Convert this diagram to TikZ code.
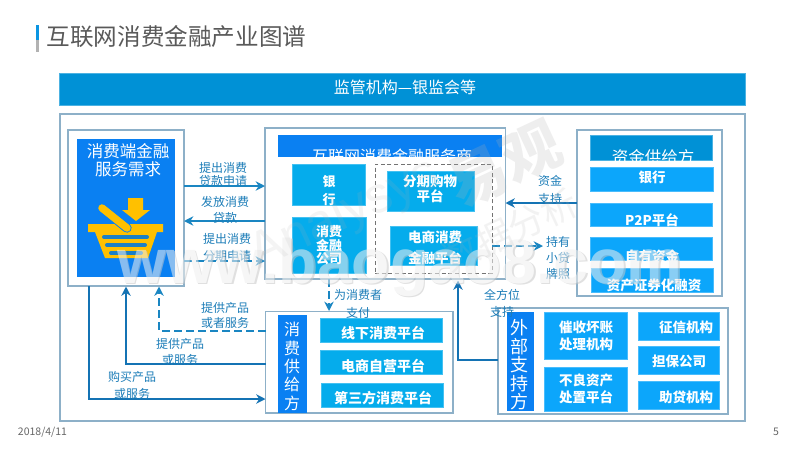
\documentclass[tikz,border=0pt]{standalone}
\usepackage{fontspec}
\setmainfont{Noto Sans CJK SC}
\newfontfamily\wmfont{Liberation Sans}
\usetikzlibrary{arrows.meta}
\definecolor{hdr}{HTML}{0091D6}
\definecolor{vivid}{HTML}{0A80F2}
\definecolor{cyanbox}{HTML}{05ACEC}
\definecolor{skybox}{HTML}{0CA6FB}
\definecolor{frameb}{HTML}{8DB0C8}
\definecolor{lnk}{HTML}{1A86C2}
\definecolor{lnkd}{HTML}{1473B4}
\definecolor{lbl}{HTML}{1C7DB8}
\definecolor{basket}{HTML}{FFC000}
\definecolor{stripe}{HTML}{1C80C4}
% box: name, style, x1, y1, x2, y2
\newcommand{\bx}[6]{%
  \pgfmathsetmacro{\bw}{(#5-#3)*0.75}\pgfmathsetmacro{\bh}{(#6-#4)*0.75}%
  \node[#2,minimum width=\bw pt,minimum height=\bh pt] (#1) at ({(#3+#5)/2},{(#4+#6)/2}) {};}
% text: name, style, size px, leading px, x, y, text
\newcommand{\tx}[7]{%
  \pgfmathsetmacro{\ts}{#3*0.75}\pgfmathsetmacro{\tl}{#4*0.75}%
  \node[#2,font=\fontsize{\ts pt}{\tl pt}\selectfont] (#1) at (#5,#6) {#7};}
\tikzset{
  x=0.75pt,y=-0.75pt,
  base/.style={rectangle,inner sep=0pt,outer sep=0pt},
  framebox/.style={base,draw=frameb,line width=1pt,fill=white},
  hdrbox/.style={base,fill=hdr,draw=hdr!70!white,line width=.4pt},
  vividbox/.style={base,fill=vivid},
  cyanb/.style={base,fill=cyanbox,draw=cyanbox!75!white,line width=.4pt},
  skyb/.style={base,fill=skybox,draw=skybox!75!white,line width=.4pt},
  wt/.style={inner sep=0pt,align=center,text=white,node font=\bfseries},
  wn/.style={inner sep=0pt,align=center,text=white},
  lt/.style={inner sep=0pt,align=center,text=lbl},
  arr/.style={-{Stealth[length=7pt,width=7pt]},line width=1.5pt,color=lnk},
  arrd/.style={arr,color=lnkd},
  darr/.style={arr,dash pattern=on 6pt off 3pt},
}
\begin{document}
\begin{tikzpicture}
\useasboundingbox (0,0) rectangle (800,450);
% title
\fill[skybox!90!black] (36,25) rectangle (38.5,40);
\fill[gray!60] (36,40) rectangle (38.5,52);
\tx{title}{inner sep=0pt,text=black!65}{23.6}{30}{176.5}{37}{互联网消费金融产业图谱}
% top bar and outer frame
\bx{top}{hdrbox}{59.5}{73.5}{745}{105}
\tx{toptx}{wn}{16}{20}{405}{87.5}{监管机构—银监会等}
\bx{outer}{framebox}{60}{114}{745}{421}
% left box
\bx{left}{framebox}{68}{130}{184}{286}
\bx{leftin}{vividbox}{77}{139}{175}{277}
\tx{lefttx}{wn}{16.5}{17.5}{128}{160}{消费端金融\\服务需求}
% basket
\fill[basket] (128,198) -- (143,198) -- (143,210) -- (150,210) -- (136,221) -- (122,210) -- (128,210) -- cycle;
\fill[basket] (88,224) -- (163,224) -- (163,232) -- (157,232) -- (148,258) -- (105,258) -- (95,232) -- (88,232) -- cycle;
\draw[vivid,line width=7pt,line cap=round] (102,208) -- (127,228);
\draw[basket,line width=5.6pt,line cap=round] (102,208) -- (127,228);
\draw[stripe,line width=3pt,line cap=round] (104,237) -- (147,237);
\draw[stripe,line width=3pt,line cap=round] (107,245) -- (145,245);
\draw[stripe,line width=3pt,line cap=round] (111,253) -- (141,253);
% centre box
\bx{center}{framebox}{265}{128}{505.5}{279}
\bx{centerh}{vividbox}{278}{135}{502}{157}
\tx{centertx}{wn}{16}{20}{392}{156}{互联网消费金融服务商}
\bx{bank}{cyanb}{292.5}{164.5}{365.5}{205}
\tx{banktx}{wt}{13}{18}{329}{191}{银\\行}
\bx{cfc}{cyanb}{292.5}{217}{366}{273}
\tx{cfctx}{wt}{13}{13.5}{329}{245.5}{消费\\金融\\公司}
\node[base,draw=black!55,dash pattern=on 3pt off 2pt,line width=.6pt,minimum width=87.75pt,minimum height=81.75pt] (dash) at (433.5,218.5) {};
\bx{fenqi}{cyanb}{387}{171}{474}{211}
\tx{fenqitx}{wt}{13.5}{15}{430}{189}{分期购物\\平台}
\bx{ds}{cyanb}{390}{226}{477}{265.5}
\tx{dstx}{wt}{13.5}{21}{435}{247.5}{电商消费\\金融平台}
% right box
\bx{fund}{framebox}{577}{130}{722}{296}
\bx{fundh}{hdrbox}{590}{135}{712}{160}
\tx{fundtx}{wn}{16.5}{20}{653}{157}{资金供给方}
\bx{r1}{skyb}{590.5}{167.5}{713}{191}
\tx{r1t}{wt}{13.5}{16}{652}{177}{银行}
\bx{r2}{skyb}{590.5}{203.5}{712}{226}
\tx{r2t}{wt}{13.5}{16}{652}{220}{P2P平台}
\bx{r3}{skyb}{590.5}{237.5}{712}{260}
\tx{r3t}{wt}{13.5}{16}{652}{256}{自有资金}
\bx{r4}{skyb}{591}{268.5}{713}{292}
\tx{r4t}{wt}{13.5}{16}{654}{285}{资产证券化融资}
% consumer supply
\bx{sup}{framebox}{265.5}{311.5}{453}{413}
\bx{supv}{vividbox}{278}{315}{307}{413}
\tx{supt}{wn}{16}{18.3}{292}{366.5}{消\\费\\供\\给\\方}
\bx{s1}{cyanb}{320}{318}{442}{342}
\tx{s1t}{wt}{14}{16}{383}{333}{线下消费平台}
\bx{s2}{cyanb}{320}{350}{442}{374}
\tx{s2t}{wt}{14}{16}{383}{366}{电商自营平台}
\bx{s3}{cyanb}{321}{383}{443}{407}
\tx{s3t}{wt}{14}{16}{383}{398}{第三方消费平台}
% external support
\bx{ext}{framebox}{498}{308}{728}{414}
\bx{extv}{vividbox}{506.5}{312}{534}{411}
\tx{extt}{wn}{18}{18.5}{519}{365}{外\\部\\支\\持\\方}
\bx{e1}{skyb}{544}{312.5}{627}{359}
\tx{e1t}{wt}{13.5}{17}{586}{335.5}{催收坏账\\处理机构}
\bx{e2}{skyb}{544.5}{367.5}{627}{411}
\tx{e2t}{wt}{13.5}{17}{586}{388.5}{不良资产\\处置平台}
\bx{e3}{skyb}{638.5}{312.5}{719}{340}
\tx{e3t}{wt}{13.5}{16}{686}{327}{征信机构}
\bx{e4}{skyb}{638.5}{346.5}{719}{374}
\tx{e4t}{wt}{13.5}{16}{679}{361}{担保公司}
\bx{e5}{skyb}{638.5}{381.5}{719}{409}
\tx{e5t}{wt}{13.5}{16}{686}{397}{助贷机构}
% connectors
\draw[arr] (left.east |- 0,186) -- (center.west |- 0,186);
\draw[arr] (center.west |- 0,221) -- (left.east |- 0,221);
\draw[darr] (left.east |- 0,261) -- (center.west |- 0,261);
\draw[darr] (sup.west |- 0,331) -- (159,331) -- (159,286.5);
\draw[arrd] (sup.west |- 0,364) -- (126,364) -- (126,286.5);
\draw[arrd] (89,286) -- (89,399) -- (sup.west |- 0,399);
\draw[darr] (329,279) -- (329,311);
\draw[arrd] (fund.west |- 0,203) -- (center.east |- 0,203);
\coordinate (licence) at (543,246);
\draw[darr] (dash.east |- 0,246) -- (licence);
\draw[arrd] (ext.west |- 0,360) -- (458,360) -- (458,280.5);
% connector labels
\tx{l1}{lt}{12}{13.5}{223}{174.5}{提出消费\\贷款申请}
\tx{l2}{lt}{12}{16}{225}{210}{发放消费\\贷款}
\tx{l3}{lt}{12}{17}{227}{247.5}{提出消费\\分期申请}
\tx{l4}{lt}{12}{15}{225}{315.5}{提供产品\\或者服务}
\tx{l5}{lt}{12}{16}{180}{352}{提供产品\\或服务}
\tx{l6}{lt}{12}{17}{132}{385.5}{购买产品\\或服务}
\tx{l7}{lt}{12}{18}{358}{304}{为消费者\\支付}
\tx{l8}{lt}{12}{18}{550}{190}{资金\\支持}
\tx{l9}{lt}{12}{16}{558}{258}{持有\\小贷\\牌照}
\tx{l10}{lt}{12}{17}{502}{303.5}{全方位\\支持}
% footer
\tx{date}{inner sep=0pt,text=black!60}{10.5}{14}{42.5}{432}{2018/4/11}
\tx{page}{inner sep=0pt,text=black!60}{10.5}{14}{776}{432}{5}
% watermark
\begin{scope}[transparency group,opacity=.55]
\node[inner sep=0pt,text=black!22,font=\wmfont\bfseries\fontsize{47}{47}\selectfont] (wms) at (401.5,268.5) {www.baogao8.com};
\node[inner sep=0pt,text=white!88!gray,font=\wmfont\bfseries\fontsize{47}{47}\selectfont] (wm) at (400,267) {www.baogao8.com};
\end{scope}
\node[inner sep=0pt,rotate=25,opacity=.22,text=black!30,font=\bfseries\fontsize{44}{44}\selectfont] (wm2) at (505,165) {易观};
\node[inner sep=0pt,rotate=25,opacity=.14,text=black!30,font=\wmfont\fontsize{38}{38}\selectfont] (wm3) at (345,215) {Analysys};
\node[inner sep=0pt,rotate=25,opacity=.16,text=black!30,font=\fontsize{27}{27}\selectfont] (wm4) at (510,230) {数据分析};
\end{tikzpicture}
\end{document}
